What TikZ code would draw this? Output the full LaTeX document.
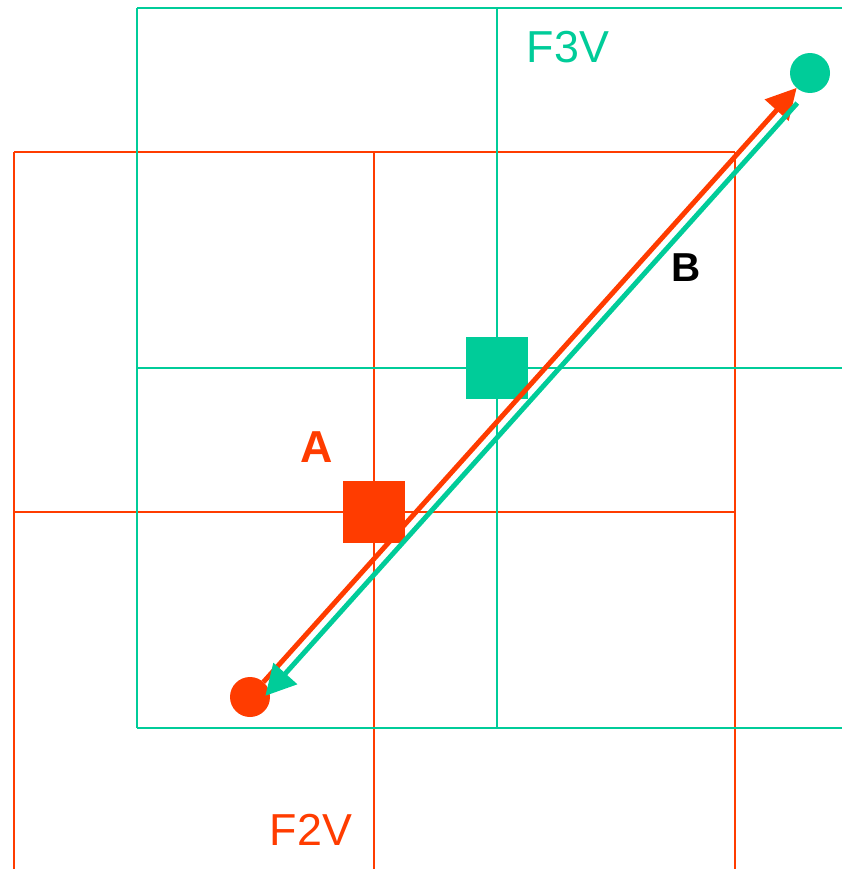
\documentclass[tikz,border=0pt]{standalone}
\usepackage{fontspec}
\setmainfont{Liberation Sans}
\usetikzlibrary{arrows.meta, calc}
\definecolor{Vred}{HTML}{FF3C00}
\definecolor{Vgreen}{HTML}{00CC99}

\begin{document}
\begin{tikzpicture}[
          x=0.02cm, y=-0.02cm,
          rgrid/.style={draw=Vred, line width=1.2pt},
          ggrid/.style={draw=Vgreen, line width=1.2pt},
          sq/.style={rectangle, inner sep=0pt, outer sep=0pt, minimum size=1.24cm},
          dot/.style={circle, inner sep=0pt, outer sep=0pt, minimum size=0.8cm},
          lbl/.style={font=\fontsize{25.5}{30}\selectfont, inner sep=0pt},
          rarr/.style={-{Triangle[length=0.6cm, width=0.62cm]}, line width=2.8pt, color=Vred},
          garr/.style={-{Triangle[length=0.6cm, width=0.62cm]}, line width=2.8pt, color=Vgreen}
        ]
          \useasboundingbox (0,0) rectangle (842,869);
          % F2V grid
          \foreach \x in {14,374,735} \draw[rgrid] (\x,152) -- (\x,869);
          \foreach \y in {152,512} \draw[rgrid] (14,\y) -- (735,\y);
          % F3V grid
          \foreach \x in {137,497} \draw[ggrid] (\x,8) -- (\x,728);
          \foreach \y in {8,368,728} \draw[ggrid] (137,\y) -- (842,\y);
          % velocity points and end points
          \node[sq, fill=Vred] (sqA) at (374,512) {};
          \node[sq, fill=Vgreen] (sqB) at (497,368) {};
          \node[dot, fill=Vred] (rc) at (250,697) {};
          \node[dot, fill=Vgreen] (gc) at (810,73) {};
          \node[lbl, text=Vgreen] (f3v) at (568,47) {F3V};
          \node[lbl, text=Vred] (f2v) at (311,830) {F2V};
          \node[lbl, text=Vred, font=\fontsize{25.5}{30}\selectfont\bfseries] (la) at (317,447) {A};
          \node[lbl, font=\fontsize{23}{28}\selectfont\bfseries] (lb) at (686,268) {B};
          % interpolation paths
          \coordinate (gs) at ($(gc)!0.62cm!(rc) + (8,7)$);
          \coordinate (ge) at ($(rc)!0.22cm!(gc) + (8,7)$);
          \draw[rarr] (rc) -- (gc);
          \draw[garr] (gs) -- (ge);
        \end{tikzpicture}
\end{document}
